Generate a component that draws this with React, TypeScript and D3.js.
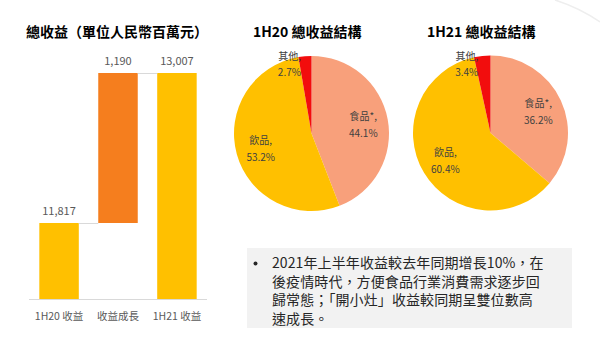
import React from "react";
import * as d3 from "d3";

const barCategories = ["1H20 收益", "收益成長", "1H21 收益"];
const barStarts = [0, 11817, 0];
const barEnds = [11817, 13007, 13007];
const barLabels = ["11,817", "1,190", "13,007"];
const barKinds = ["total", "delta", "total"];

const pieCategories = ["食品*", "飲品", "其他"];
const pie1H20 = [44.1, 53.2, 2.7];
const pie1H21 = [36.2, 60.4, 3.4];
const pieTitles = ["1H20 總收益結構", "1H21 總收益結構"];

const noteLines = [
  "2021年上半年收益較去年同期增長10%，在",
  "後疫情時代，方便食品行業消費需求逐步回",
  "歸常態；「開小灶」收益較同期呈雙位數高",
  "速成長。",
];

const FONT = "'Noto Sans CJK TC', 'Noto Sans', sans-serif";
const GOLD = "#FFC000";
const ORANGE = "#F57E1E";
const SALMON = "#F8A07B";
const RED = "#F20D0D";

function Pie({ values, cx, cy, r, title, titleX }: any) {
  const pie = d3.pie<number>().sort(null).value((d) => d)(values);
  const arc = d3.arc<any>().innerRadius(0).outerRadius(r);
  const labelArc = d3.arc<any>().innerRadius(r * 0.68).outerRadius(r * 0.68);
  const colors = [SALMON, GOLD, RED];
  return (
    <g>
      <text x={titleX} y={37} fontFamily={FONT} fontWeight="bold" fontSize={14} fill="#000">
        {title}
      </text>
      <g transform={`translate(${cx},${cy})`}>
        {pie.map((p, i) => (
          <path key={i} d={arc(p) as string} fill={colors[i]} />
        ))}
        {pie.map((p, i) => {
          const mid = (p.startAngle + p.endAngle) / 2;
          const label = pieCategories[i] + ",";
          const pct = values[i].toFixed(1) + "%";
          if (i === 2) {
            const px = r * Math.sin(mid) - 4;
            const py = -r * Math.cos(mid);
            return (
              <g key={i} fontFamily={FONT} fontSize={10} fill="#404040" textAnchor="end">
                <text x={px} y={py + 4}>{label}</text>
                <text x={px} y={py + 20}>{pct}</text>
              </g>
            );
          }
          const [lx, ly] = labelArc.centroid(p);
          return (
            <g key={i} fontFamily={FONT} fontSize={10} fill="#404040" textAnchor="middle">
              <text x={lx} y={ly - 4}>{label}</text>
              <text x={lx} y={ly + 13}>{pct}</text>
            </g>
          );
        })}
      </g>
    </g>
  );
}

export default function App() {
  const x = d3.scaleBand().domain(barCategories).range([29, 207]).paddingInner(0.33).paddingOuter(0.175);
  const y = d3.scaleLinear().domain([11214, 13007]).range([299, 73]);
  const bw = x.bandwidth();

  return (
    <svg width={600} height={337} style={{ position: "absolute", left: 0, top: 0, background: "#fff" }}>
      <rect width={600} height={337} fill="#fff" />
      <path d="M555,0 Q580,8 600,22" stroke="#eeeeee" strokeWidth={1.5} fill="none" />

      {/* waterfall */}
      <text x={26} y={37} fontFamily={FONT} fontWeight="bold" fontSize={14} fill="#000">
        總收益（單位人民幣百萬元）
      </text>
      <line x1={29} x2={207} y1={y.range()[0] + 0.5} y2={y.range()[0] + 0.5} stroke="#d9d9d9" strokeWidth={1} />
      {barCategories.map((c, i) => {
        const lo = Math.max(barStarts[i], y.domain()[0]);
        const x0 = x(c)!;
        return (
          <g key={c}>
            <rect
              x={x0}
              y={y(barEnds[i])}
              width={bw}
              height={y(lo) - y(barEnds[i])}
              fill={barKinds[i] === "delta" ? ORANGE : GOLD}
            />
            <text
              x={x0 + bw / 2}
              y={y(barEnds[i]) - 8}
              textAnchor="middle"
              fontFamily={FONT}
              fontSize={11}
              fill="#595959"
            >
              {barLabels[i]}
            </text>
            <text x={x0 + bw / 2} y={320} textAnchor="middle" fontFamily={FONT} fontSize={10.5} fill="#595959">
              {c}
            </text>
          </g>
        );
      })}
      {barCategories.slice(0, -1).map((c, i) => {
        const next = barCategories[i + 1];
        const v = barEnds[i];
        return (
          <line
            key={"c" + i}
            x1={x(c)! + bw}
            x2={x(next)!}
            y1={y(v) + 0.5}
            y2={y(v) + 0.5}
            stroke="#d9d9d9"
            strokeWidth={1}
          />
        );
      })}

      <Pie values={pie1H20} cx={311.5} cy={133.5} r={77.5} title={pieTitles[0]} titleX={253} />
      <Pie values={pie1H21} cx={490.5} cy={133} r={77.5} title={pieTitles[1]} titleX={427} />

      {/* note box */}
      <rect x={247} y={248} width={325} height={80} fill="#f2f2f2" />
      <circle cx={255.5} cy={263.5} r={2} fill="#262626" />
      {noteLines.map((l, i) => (
        <text
          key={i}
          x={272}
          y={268 + i * 18.5}
          fontFamily={FONT}
          fontSize={14}
          letterSpacing={0.1}
          fill="#262626"
        >
          {l}
        </text>
      ))}
    </svg>
  );
}
